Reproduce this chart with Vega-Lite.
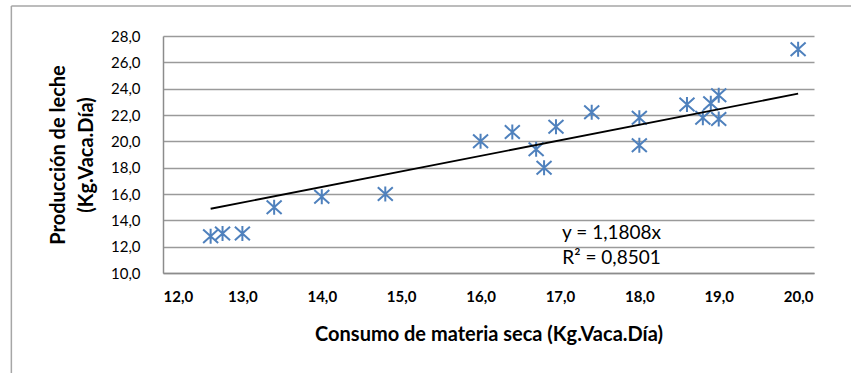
{
  "$schema": "https://vega.github.io/schema/vega-lite/v6.json",
  "width": 651,
  "height": 237,
  "autosize": {"type": "none"},
  "padding": {"left": 163, "top": 36, "right": 37, "bottom": 100},
  "background": "white",
  "config": {"view": {"stroke": null}, "font": "Lato"},
  "datasets": {
    "points": [
      {"consumo": 12.6, "leche": 12.8},
      {"consumo": 12.75, "leche": 13.0},
      {"consumo": 13.0, "leche": 13.0},
      {"consumo": 13.4, "leche": 15.0},
      {"consumo": 14.0, "leche": 15.8},
      {"consumo": 14.8, "leche": 16.0},
      {"consumo": 16.0, "leche": 20.0},
      {"consumo": 16.4, "leche": 20.7},
      {"consumo": 16.7, "leche": 19.4},
      {"consumo": 16.8, "leche": 18.0},
      {"consumo": 16.95, "leche": 21.1},
      {"consumo": 17.4, "leche": 22.2},
      {"consumo": 18.0, "leche": 21.8},
      {"consumo": 18.0, "leche": 19.7},
      {"consumo": 18.6, "leche": 22.8},
      {"consumo": 18.8, "leche": 21.8},
      {"consumo": 18.9, "leche": 22.9},
      {"consumo": 19.0, "leche": 23.5},
      {"consumo": 19.0, "leche": 21.7},
      {"consumo": 20.0, "leche": 27.0}
    ],
    "trend": [
      {"consumo": 12.6, "leche": 14.88},
      {"consumo": 20.0, "leche": 23.62}
    ]
  },
  "layer": [
    {
      "data": {"name": "points"},
      "mark": {"type": "point", "shape": "M0,-1L0,1M-1,-0.9L1,0.9M-1,0.9L1,-0.9", "filled": false, "stroke": "#4F81BD", "strokeWidth": 2, "size": 225, "opacity": 1},
      "encoding": {
        "x": {
          "field": "consumo", "type": "quantitative",
          "scale": {"domain": [12, 20.2], "nice": false, "zero": false},
          "axis": {
            "values": [12, 13, 14, 15, 16, 17, 18, 19, 20],
            "tickCount": 30,
            "labelExpr": "replace(format(datum.value, '.1f'), '.', ',')",
            "grid": false, "ticks": false, "tickSize": 0,
            "domainColor": "#8c8c8c", "domainWidth": 1.5,
            "labelFont": "Lato", "labelFontWeight": "bold", "labelFontSize": 15, "labelColor": "black",
            "labelPadding": 16, "labelOverlap": false,
            "title": "Consumo de materia seca (Kg.Vaca.Día)",
            "titleFont": "Lato", "titleFontSize": 20, "titleFontWeight": "bold", "titleColor": "black",
            "titlePadding": 20
          }
        },
        "y": {
          "field": "leche", "type": "quantitative",
          "scale": {"domain": [10, 28], "nice": false, "zero": false},
          "axis": {
            "values": [10, 12, 14, 16, 18, 20, 22, 24, 26, 28],
            "tickCount": 30,
            "labelExpr": "replace(format(datum.value, '.1f'), '.', ',')",
            "grid": true, "gridColor": "#9a9a9a", "gridWidth": 1.5,
            "ticks": false, "tickSize": 0,
            "domainColor": "#8c8c8c", "domainWidth": 1.5,
            "labelFont": "Lato", "labelFontWeight": "normal", "labelFontSize": 15, "labelColor": "black",
            "labelPadding": 23, "labelOverlap": false,
            "title": ["Producción de leche", "(Kg.Vaca.Día)"],
            "titleFont": "Lato", "titleFontSize": 20, "titleFontWeight": "bold", "titleColor": "black",
            "titleLineHeight": 28, "titlePadding": 14
          }
        }
      }
    },
    {
      "data": {"name": "trend"},
      "mark": {"type": "line", "color": "black", "strokeWidth": 1.8},
      "encoding": {
        "x": {"field": "consumo", "type": "quantitative"},
        "y": {"field": "leche", "type": "quantitative"}
      }
    },
    {
      "data": {"values": [{}]},
      "mark": {"type": "text", "font": "Lato", "fontSize": 19, "color": "black", "align": "center", "baseline": "middle"},
      "encoding": {
        "x": {"datum": 17.65, "type": "quantitative"},
        "y": {"datum": 13.06, "type": "quantitative"},
        "text": {"value": "y = 1,1808x"}
      }
    },
    {
      "data": {"values": [{}]},
      "mark": {"type": "text", "font": "Lato", "fontSize": 19, "color": "black", "align": "center", "baseline": "middle"},
      "encoding": {
        "x": {"datum": 17.65, "type": "quantitative"},
        "y": {"datum": 11.17, "type": "quantitative"},
        "text": {"value": "R² = 0,8501"}
      }
    },
    {
      "data": {"values": [{}]},
      "mark": {"type": "rule", "color": "#a6a6a6", "strokeWidth": 1.5, "clip": false},
      "encoding": {
        "x": {"datum": 10.09, "type": "quantitative"},
        "y": {"datum": 30.28, "type": "quantitative"},
        "y2": {"datum": 0}
      }
    },
    {
      "data": {"values": [{}]},
      "mark": {"type": "rule", "color": "#a6a6a6", "strokeWidth": 1.5, "clip": false},
      "encoding": {
        "x": {"datum": 10.09, "type": "quantitative"},
        "x2": {"datum": 22},
        "y": {"datum": 30.28, "type": "quantitative"}
      }
    }
  ]
}
